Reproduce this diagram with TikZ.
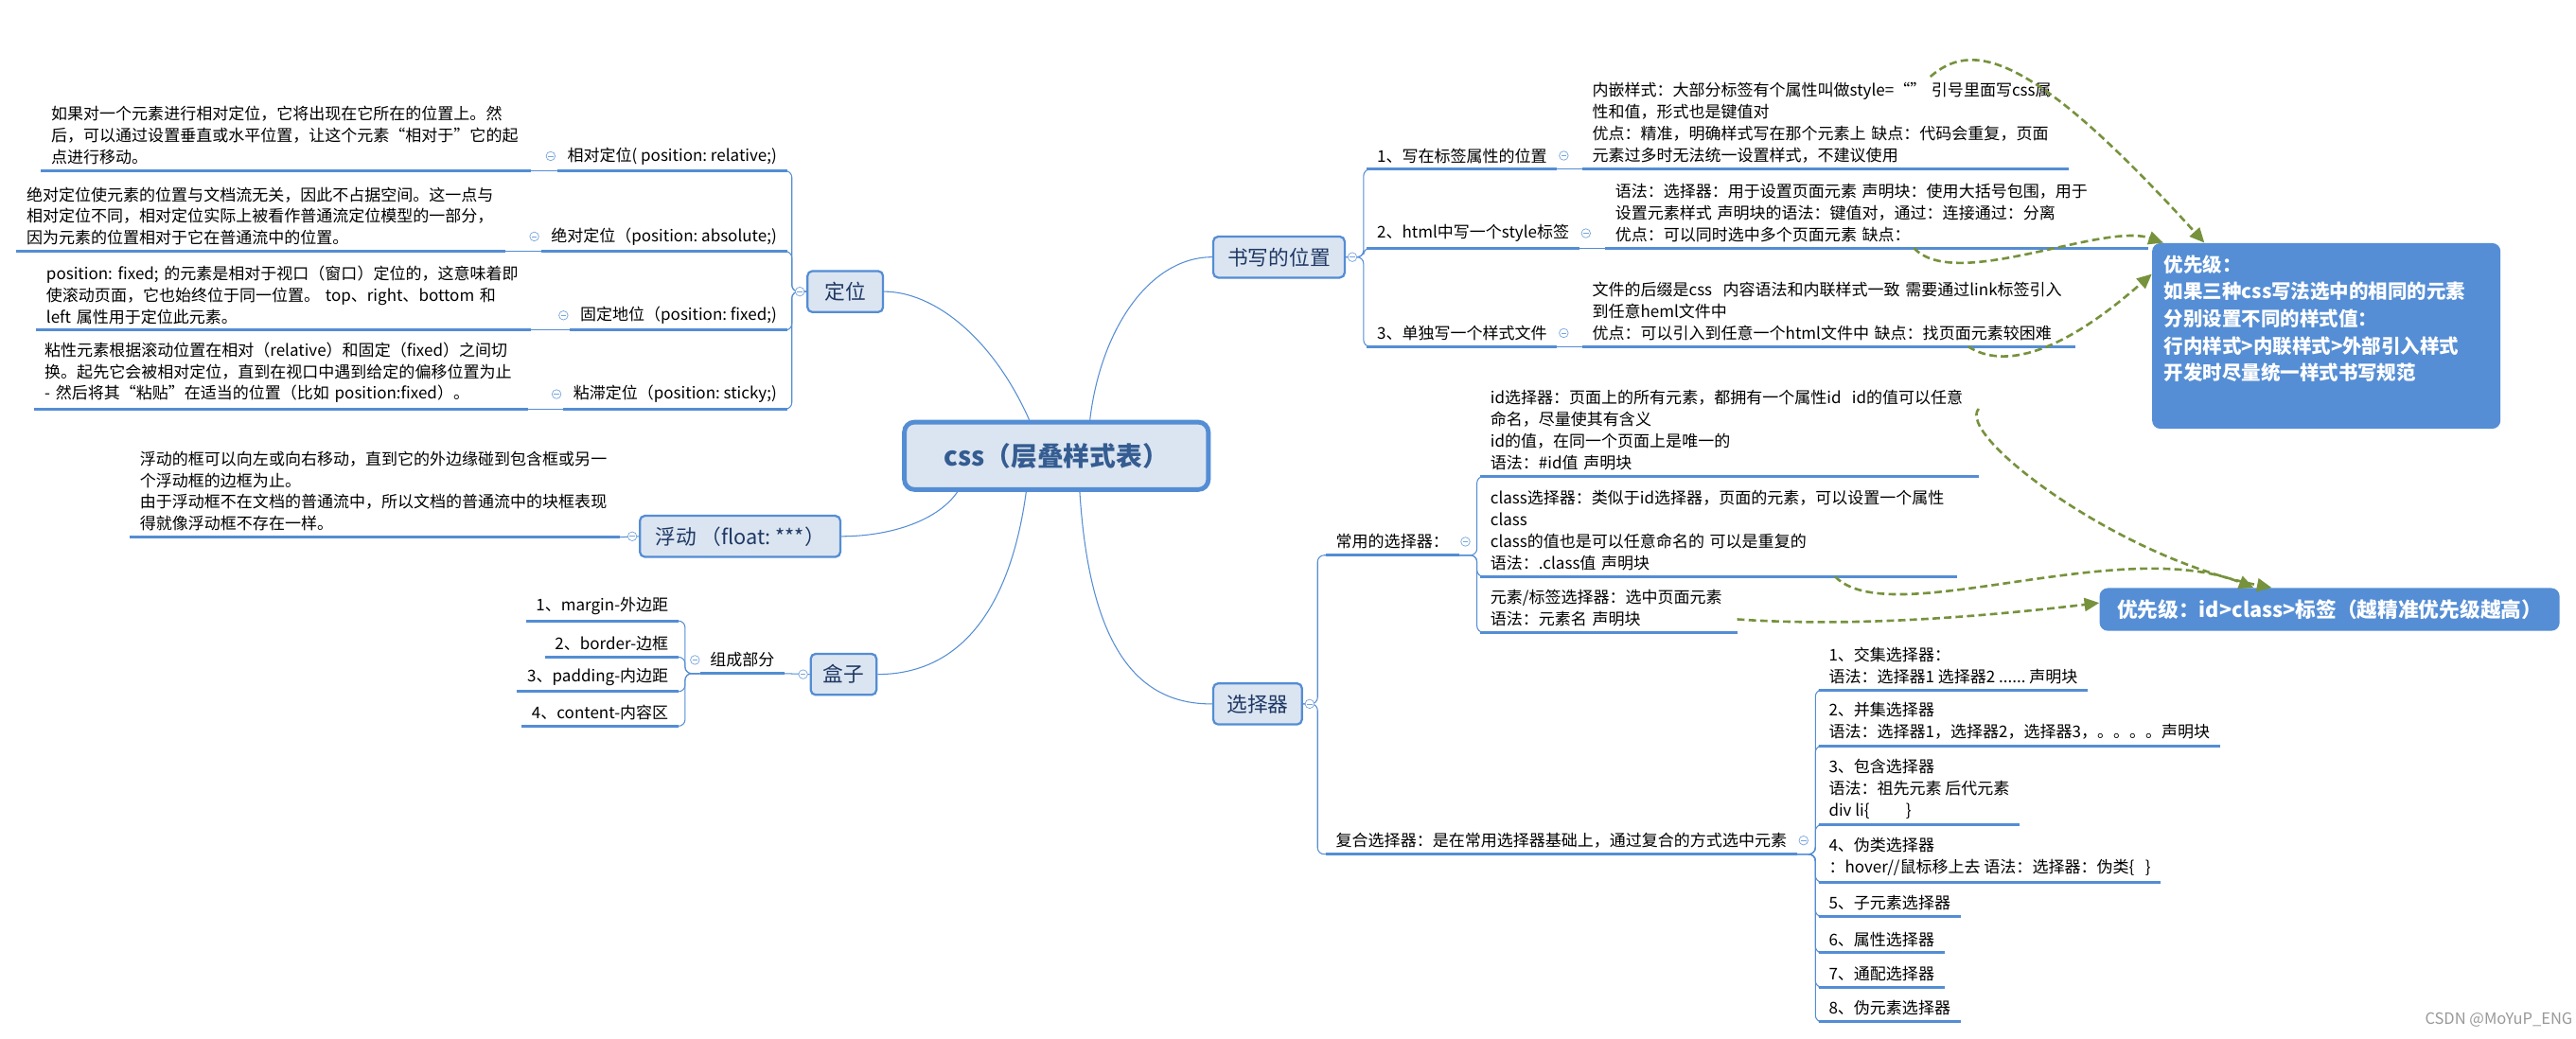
\documentclass[tikz,border=0pt]{standalone}
\usepackage{fontspec}
\setmainfont{Noto Sans CJK SC}
\usetikzlibrary{arrows.meta}
\definecolor{mapblue}{RGB}{84,141,212}
\definecolor{topicfill}{RGB}{219,229,241}
\definecolor{topicink}{RGB}{31,56,100}
\definecolor{rootink}{RGB}{52,92,145}
\definecolor{prioblue}{RGB}{85,142,213}
\definecolor{hintgreen}{RGB}{118,146,60}
\newcommand{\leaffont}{\fontsize{9.8}{13.2}\selectfont}
\newcommand{\topicfont}{\fontsize{12.5}{15}\selectfont}
\hyphenpenalty=10000
\exhyphenpenalty=10000

\begin{document}
\begin{tikzpicture}[
  x=1pt, y=-1pt,
  every node/.style={font=\leaffont},
  root/.style={draw=mapblue, line width=2.8pt, fill=topicfill, rounded corners=6pt, minimum width=185pt, minimum height=41pt, font=\fontsize{16}{18}\selectfont\bfseries, text=rootink},
  topic/.style={draw=mapblue, line width=1.3pt, fill=topicfill, rounded corners=3pt, minimum height=25pt, inner xsep=6pt, font=\topicfont, text=topicink},
  uline/.style={draw=mapblue, line width=1.8pt},
  leaf/.style={anchor=south west, align=left, inner xsep=6pt, inner ysep=3.5pt, append after command={(\tikzlastnode.south west) edge[uline] (\tikzlastnode.south east)}},
  tag/.style={leaf, anchor=south east},
  link/.style={draw=mapblue, line width=0.6pt, rounded corners=4pt},
  fold/.style={circle, draw=mapblue!80, line width=0.4pt, fill=white, inner sep=0pt, minimum size=5.5pt, path picture={\draw[mapblue!80, line width=0.4pt] ([xshift=-1.6pt]path picture bounding box.center) -- ([xshift=1.6pt]path picture bounding box.center);}},
  prio/.style={fill=prioblue, rounded corners=5pt, text=white, font=\fontsize{11.8}{16.5}\selectfont\bfseries},
  hint/.style={draw=hintgreen, line width=1.5pt, dash pattern=on 4.5pt off 2.5pt, -{Triangle[length=9pt,width=8pt]}}
]
\fill[white] (0,0) rectangle (1568,632);
\useasboundingbox (0,0) rectangle (1568,632);

\node[root] (root) at (643,277.5) {css（层叠样式表）};

% 定位
\node[topic, minimum width=46pt] (dingwei) at (514.5,177.5) {定位};

\node[leaf, text width=286pt] (dwRelNote) at (25,104) {如果对一个元素进行相对定位，它将出现在它所在的位置上。然\\后，可以通过设置垂直或水平位置，让这个元素“相对于”它的起\\点进行移动。};
\node[tag] (dwRel) at (479,104) {相对定位(~position:~relative;)};

\node[leaf, text width=285pt] (dwAbsNote) at (10,153) {绝对定位使元素的位置与文档流无关，因此不占据空间。这一点与\\相对定位不同，相对定位实际上被看作普通流定位模型的一部分，\\因为元素的位置相对于它在普通流中的位置。};
\node[tag] (dwAbs) at (479,153) {绝对定位（position:~absolute;)};

\node[leaf, text width=289pt] (dwFixNote) at (22,201) {position:~fixed;~的元素是相对于视口（窗口）定位的，这意味着即\\使滚动页面，它也始终位于同一位置。~top、right、bottom~和\\left~属性用于定位此元素。};
\node[tag] (dwFix) at (479,201) {固定地位（position:~fixed;)};

\node[leaf, text width=288pt] (dwStiNote) at (21,249) {粘性元素根据滚动位置在相对（relative）和固定（fixed）之间切\\换。起先它会被相对定位，直到在视口中遇到给定的偏移位置为止\\-~然后将其“粘贴”在适当的位置（比如~position:fixed）。};
\node[tag] (dwSti) at (479,249) {粘滞定位（position:~sticky;)};

% 浮动
\node[topic, minimum width=122pt] (fudong) at (450.5,326.5) {浮动~（float:~***）};
\node[leaf, text width=286pt] (fdNote) at (79,327) {浮动的框可以向左或向右移动，直到它的外边缘碰到包含框或另一\\个浮动框的边框为止。\\由于浮动框不在文档的普通流中，所以文档的普通流中的块框表现\\得就像浮动框不存在一样。};

% 盒子
\node[topic, minimum width=40pt] (hezi) at (513.5,410.5) {盒子};
\node[leaf] (hzPart) at (426,410) {组成部分};
\node[tag] (hzMargin) at (413,378) {1、margin-外边距};
\node[tag] (hzBorder) at (413,400) {2、border-边框};
\node[tag] (hzPadding) at (413,421) {3、padding-内边距};
\node[tag] (hzContent) at (413,442) {4、content-内容区};

% 书写的位置
\node[topic, minimum width=80pt] (shuxie) at (778.5,156.5) {书写的位置};
\node[leaf] (sxInline) at (832,103) {1、写在标签属性的位置};
\node[leaf] (sxStyle) at (832,151) {2、html中写一个style标签};
\node[leaf] (sxFile) at (832,211) {3、单独写一个样式文件};

\node[leaf, text width=284pt] (sxInlineNote) at (963,103) {内嵌样式：大部分标签有个属性叫做style=“”~引号里面写css属\\性和值，形式也是键值对\\优点：精准，明确样式写在那个元素上~缺点：代码会重复，页面\\元素过多时无法统一设置样式，不建议使用};
\node[leaf, text width=318pt] (sxStyleNote) at (977,151) {语法：选择器：用于设置页面元素~声明块：使用大括号包围，用于\\设置元素样式~声明块的语法：键值对，通过：连接通过：分离\\优点：可以同时选中多个页面元素~缺点：};
\node[leaf, text width=288pt] (sxFileNote) at (963,211) {文件的后缀是css~~内容语法和内联样式一致~需要通过link标签引入\\到任意heml文件中\\优点：可以引入到任意一个html文件中~缺点：找页面元素较困难};

% 选择器
\node[topic, minimum width=54pt] (xuanze) at (765.5,428.5) {选择器};
\node[leaf] (xzCommon) at (807,338) {常用的选择器：};
\node[leaf] (xzCompound) at (807,520) {复合选择器：是在常用选择器基础上，通过复合的方式选中元素};

\node[leaf, text width=291pt] (xzId) at (901,290) {id选择器：页面上的所有元素，都拥有一个属性id~~id的值可以任意\\命名，尽量使其有含义\\id的值，在同一个页面上是唯一的\\语法：\#id值~声明块};
\node[leaf, text width=278pt] (xzClass) at (901,351) {class选择器：类似于id选择器，页面的元素，可以设置一个属性\\class\\class的值也是可以任意命名的~可以是重复的\\语法：.class值~声明块};
\node[leaf, text width=144pt] (xzElement) at (901,385) {元素/标签选择器：选中页面元素\\语法：元素名~声明块};

\node[leaf] (cp1) at (1107,420) {1、交集选择器：\\语法：选择器1~选择器2~......~声明块};
\node[leaf] (cp2) at (1107,454) {2、并集选择器\\语法：选择器1，选择器2，选择器3，。。。。声明块};
\node[leaf] (cp3) at (1107,502) {3、包含选择器\\语法：祖先元素~后代元素\\div~li\{\hspace{22pt}\}};
\node[leaf] (cp4) at (1107,537) {4、伪类选择器\\：hover//鼠标移上去~语法：选择器：伪类\{~~~\}};
\node[leaf] (cp5) at (1107,558) {5、子元素选择器};
\node[leaf] (cp6) at (1107,580) {6、属性选择器};
\node[leaf] (cp7) at (1107,601) {7、通配选择器};
\node[leaf] (cp8) at (1107,622) {8、伪元素选择器};

% 优先级
\node[prio, minimum width=212pt, minimum height=113pt] (prioWrite) at (1416,204.5) {};
\node[prio, fill=none, anchor=north west, align=left, inner sep=0pt] (prioWriteText) at (1317,155) {优先级：\\如果三种css写法选中的相同的元素\\分别设置不同的样式值：\\行内样式>内联样式>外部引入样式\\开发时尽量统一样式书写规范};
\node[prio, minimum width=280pt, minimum height=26pt, font=\fontsize{12.5}{15}\selectfont\bfseries] (prioSel) at (1418,371) {优先级：id>class>标签（越精准优先级越高）};

\node[text=black!40, font=\fontsize{9.5}{11}\selectfont] (mark) at (1521,621) {CSDN @MoYuP\_ENG};

\draw[link] (root.127) .. controls (604,205) and (568,177.5) .. (dingwei.east);
\draw[link] (root.47) .. controls (670,200) and (700,156.5) .. (shuxie.west);
\draw[link] (root.-160) .. controls (570,318) and (540,326.5) .. (fudong.east);
\draw[link] (root.-130) .. controls (615,370) and (585,410.5) .. (hezi.east);
\draw[link] (root.-57) .. controls (663,390) and (690,429) .. (xuanze.west);

\draw[link] (dingwei.west) -| ([xshift=3pt]dwRel.south east) -- (dwRel.south east);
\draw[link] (dingwei.west) -| ([xshift=3pt]dwAbs.south east) -- (dwAbs.south east);
\draw[link] (dingwei.west) -| ([xshift=3pt]dwFix.south east) -- (dwFix.south east);
\draw[link] (dingwei.west) -| ([xshift=3pt]dwSti.south east) -- (dwSti.south east);
\draw[link] (dwRelNote.south east) -- (dwRel.south west);
\draw[link] (dwAbsNote.south east) -- (dwAbs.south west);
\draw[link] (dwFixNote.south east) -- (dwFix.south west);
\draw[link] (dwStiNote.south east) -- (dwSti.south west);

\draw[link] (fdNote.south east) -- (fudong.west);

\draw[link] (hzPart.south east) -- (hezi.west);
\draw[link] (hzPart.south west) -| ([xshift=4pt]hzMargin.south east) -- (hzMargin.south east);
\draw[link] (hzPart.south west) -| ([xshift=4pt]hzBorder.south east) -- (hzBorder.south east);
\draw[link] (hzPart.south west) -| ([xshift=4pt]hzPadding.south east) -- (hzPadding.south east);
\draw[link] (hzPart.south west) -| ([xshift=4pt]hzContent.south east) -- (hzContent.south east);

\draw[link] (shuxie.east) -| ([xshift=-2pt]sxInline.south west) -- (sxInline.south west);
\draw[link] (shuxie.east) -| ([xshift=-2pt]sxStyle.south west) -- (sxStyle.south west);
\draw[link] (shuxie.east) -| ([xshift=-2pt]sxFile.south west) -- (sxFile.south west);
\draw[link] (sxInline.south east) -- (sxInlineNote.south west);
\draw[link] (sxStyle.south east) -- (sxStyleNote.south west);
\draw[link] (sxFile.south east) -- (sxFileNote.south west);

\draw[link] (xuanze.east) -| ([xshift=-5pt]xzCommon.south west) -- (xzCommon.south west);
\draw[link] (xuanze.east) -| ([xshift=-5pt]xzCompound.south west) -- (xzCompound.south west);
\draw[link] (xzCommon.south east) -| ([xshift=-2pt]xzId.south west) -- (xzId.south west);
\draw[link] (xzCommon.south east) -| ([xshift=-2pt]xzClass.south west) -- (xzClass.south west);
\draw[link] (xzCommon.south east) -| ([xshift=-2pt]xzElement.south west) -- (xzElement.south west);
\foreach \c in {cp1,cp2,cp3,cp4,cp5,cp6,cp7,cp8}
  \draw[link] (xzCompound.south east) -| ([xshift=-2pt]\c.south west) -- (\c.south west);

\draw[hint] ([xshift=212pt]sxInlineNote.north west) .. controls (1200,25) and (1235,30) .. ([xshift=32pt]prioWrite.north west);
\draw[hint] ([xshift=188pt]sxStyleNote.south west) .. controls (1190,178) and (1280,135) .. ([xshift=7pt]prioWrite.north west);
\draw[hint] ([xshift=235pt]sxFileNote.south west) .. controls (1220,225) and (1255,215) .. ([yshift=-19pt]prioWrite.north west);
\draw[hint] ([yshift=-15pt]xzId.north east) .. controls (1190,265) and (1290,340) .. ([xshift=105pt]prioSel.north west);
\draw[hint] ([xshift=216pt]xzClass.south west) .. controls (1150,385) and (1290,325) .. ([xshift=94pt]prioSel.north west);
\draw[hint] ([yshift=8pt]xzElement.south east) .. controls (1130,382) and (1210,375) .. ([yshift=4pt]prioSel.west);

\node[fold] (foldDw) at ([xshift=-4pt]dingwei.west) {};
\node[fold] (foldRel) at ([xshift=-4pt]dwRel.west) {};
\node[fold] (foldAbs) at ([xshift=-4pt]dwAbs.west) {};
\node[fold] (foldFix) at ([xshift=-4pt]dwFix.west) {};
\node[fold] (foldSti) at ([xshift=-4pt]dwSti.west) {};
\node[fold] (foldFd) at ([xshift=-4pt]fudong.west) {};
\node[fold] (foldHz) at ([xshift=-4pt]hezi.west) {};
\node[fold] (foldPart) at ([xshift=-3pt]hzPart.west) {};
\node[fold] (foldSx) at ([xshift=4pt]shuxie.east) {};
\node[fold] (foldInline) at ([xshift=4pt]sxInline.east) {};
\node[fold] (foldStyle) at ([xshift=4pt]sxStyle.east) {};
\node[fold] (foldFile) at ([xshift=4pt]sxFile.east) {};
\node[fold] (foldXz) at ([xshift=4pt]xuanze.east) {};
\node[fold] (foldCommon) at ([xshift=4pt]xzCommon.east) {};
\node[fold] (foldCompound) at ([xshift=4pt]xzCompound.east) {};
\end{tikzpicture}
\end{document}
